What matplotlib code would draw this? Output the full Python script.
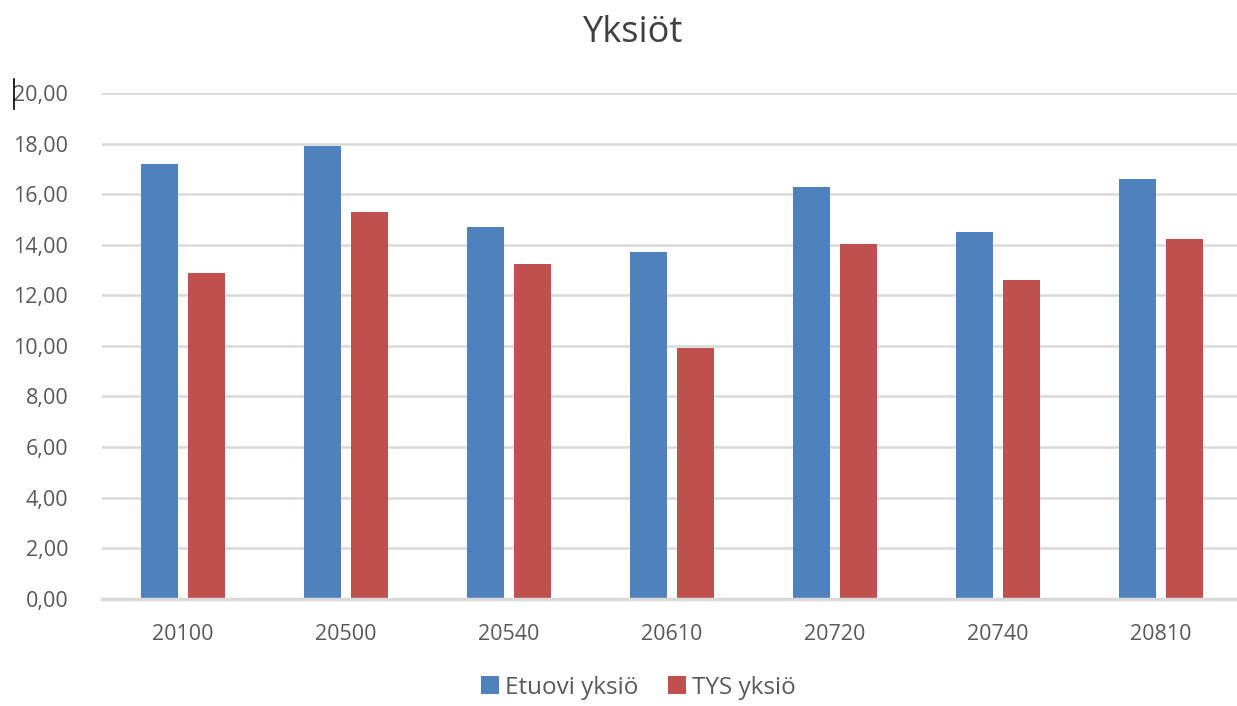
import matplotlib
matplotlib.use("Agg")
import matplotlib.pyplot as plt
import numpy as np

categories = ["20100", "20500", "20540", "20610", "20720", "20740", "20810"]
etuovi = [17.2, 17.9, 14.7, 13.7, 16.3, 14.5, 16.6]
tys = [12.9, 15.3, 13.25, 9.9, 14.05, 12.6, 14.25]
series_names = ["Etuovi yksiö", "TYS yksiö"]
yticks = [0, 2, 4, 6, 8, 10, 12, 14, 16, 18, 20]

plt.rcParams['font.family'] = ['Open Sans', 'DejaVu Sans']

fig = plt.figure(figsize=(12.37, 7.06), dpi=100)
ax = fig.add_axes([101.5 / 1237, 0.152, 1141 / 1237, 0.716])

x = np.arange(len(categories))
w = 0.226
off = 0.144
ax.bar(x - off, etuovi, w, color="#4F81BD", label=series_names[0], zorder=3)
ax.bar(x + off, tys, w, color="#C0504D", label=series_names[1], zorder=3)

ax.set_xlim(-0.5, len(categories) - 0.5)
ax.set_ylim(0, 20)
ax.set_yticks(yticks)
ax.set_yticklabels([f"{v:.2f}".replace(".", ",") for v in yticks])
ax.set_xticks(x)
ax.set_xticklabels(categories)
ax.tick_params(axis="both", length=0, labelsize=15.5, colors="#595959")
ax.tick_params(axis="y", pad=24)
ax.tick_params(axis="x", pad=18)
ax.grid(axis="y", color="#d9d9d9", linewidth=1.8, zorder=0)
for s in ["top", "right", "left"]:
    ax.spines[s].set_visible(False)
ax.spines["bottom"].set_color("#d9d9d9")
ax.spines["bottom"].set_linewidth(2.5)
ax.spines["bottom"].set_zorder(4)

fig.text(0.512, 0.953, "Yksiöt", ha="center", va="center", fontsize=26, color="#404040")

fig.legend(loc="center", bbox_to_anchor=(0.516, 0.026), ncol=2, frameon=False,
           fontsize=17.5, labelcolor="#595959", handlelength=0.75, handleheight=0.75,
           columnspacing=1.2, handletextpad=0.25, borderpad=0.1)

fig.add_artist(plt.Line2D([0.0115, 0.0115], [0.845, 0.888], color="black", linewidth=1.2))

fig.savefig("out.png", dpi=100)
